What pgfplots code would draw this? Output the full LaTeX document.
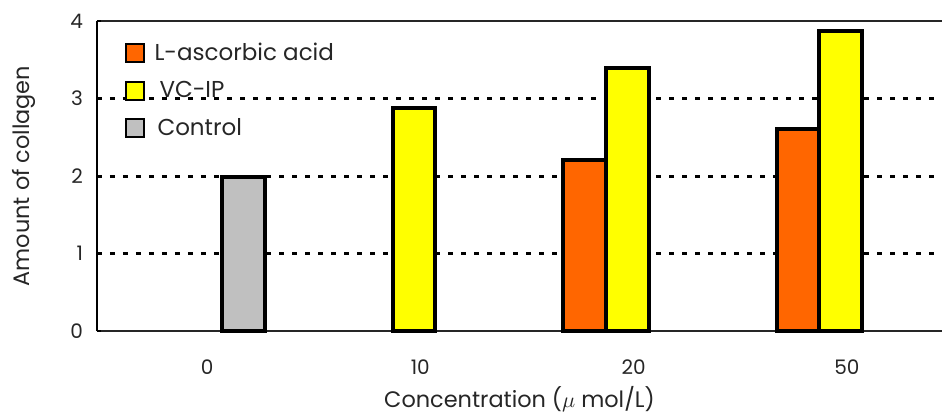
\documentclass[border=0pt]{standalone}
\usepackage{fontspec}
\setmainfont{Poppins}
\usepackage{pgfplots}
\pgfplotsset{compat=1.18}
\definecolor{vcorange}{RGB}{255,102,0}
\definecolor{vcyellow}{RGB}{255,255,0}
\definecolor{ctlgray}{RGB}{192,192,192}

\begin{document}
\begin{tikzpicture}
\begin{axis}[
  scale only axis,
  width=422.5pt, height=155pt,
  xmin=-0.516, xmax=3.446,
  ymin=0, ymax=4,
  axis x line=bottom, axis y line=left,
  axis line style={line width=1pt, -},
  xtick={0,1,2,3},
  xticklabels={0,10,20,50},
  x tick style={draw=none},
  ytick={1,2,3},
  extra y ticks={0,4},
  extra y tick style={grid style={solid, line width=1.1pt, black!85}},
  y tick style={line width=1pt, black},
  tick align=inside,
  major tick length=2pt,
  ymajorgrids=true,
  grid style={black, line width=1.5pt, dash pattern=on 2.5pt off 4pt},
  /pgf/number format/assume math mode=true,
  tick label style={font=\fontsize{10}{12}\selectfont, text=black!85},
  xticklabel style={yshift=-9pt},
  yticklabel style={xshift=-3.5pt},
  ylabel={Amount of collagen},
  xlabel={Concentration ($\mu$ mol/L)},
  label style={font=\fontsize{11.2}{13}\selectfont, text=black!85},
  ylabel style={at={(axis description cs:-0.087,0.5)}, anchor=center},
  xlabel style={at={(axis description cs:0.5,-0.22)}, anchor=center},
  ybar, bar width=0.2, bar shift=0pt,
  legend style={at={(axis description cs:0.025,0.957)}, anchor=north west,
    draw=none, fill=none, font=\fontsize{11.5}{13}\selectfont, text=black!85,
    row sep=5pt, column sep=3pt, legend cell align=left},
  legend image code/.code={\draw[#1, line width=1pt] (0pt,-4.5pt) rectangle (9pt,4.5pt);},
  clip=false,
]
\addplot[fill=vcorange, draw=black, line width=2pt] coordinates {(1.77,2.21) (2.77,2.61)};
\addplot[fill=vcyellow, draw=black, line width=2pt] coordinates {(0.97,2.88) (1.97,3.40) (2.97,3.87)};
\addplot[fill=ctlgray, draw=black, line width=2pt] coordinates {(0.17,1.99)};
\legend{L-ascorbic acid, \hspace{2.5pt}VC-IP, \hspace{1.5pt}Control}
\coordinate (bl) at (axis description cs:0,0);
\coordinate (tr) at (axis description cs:1,1);
\end{axis}
\pgfresetboundingbox
\path[use as bounding box] ([shift={(-48.5pt,-41.5pt)}]bl) rectangle ([shift={(0pt,10.5pt)}]tr);
\end{tikzpicture}
\end{document}
